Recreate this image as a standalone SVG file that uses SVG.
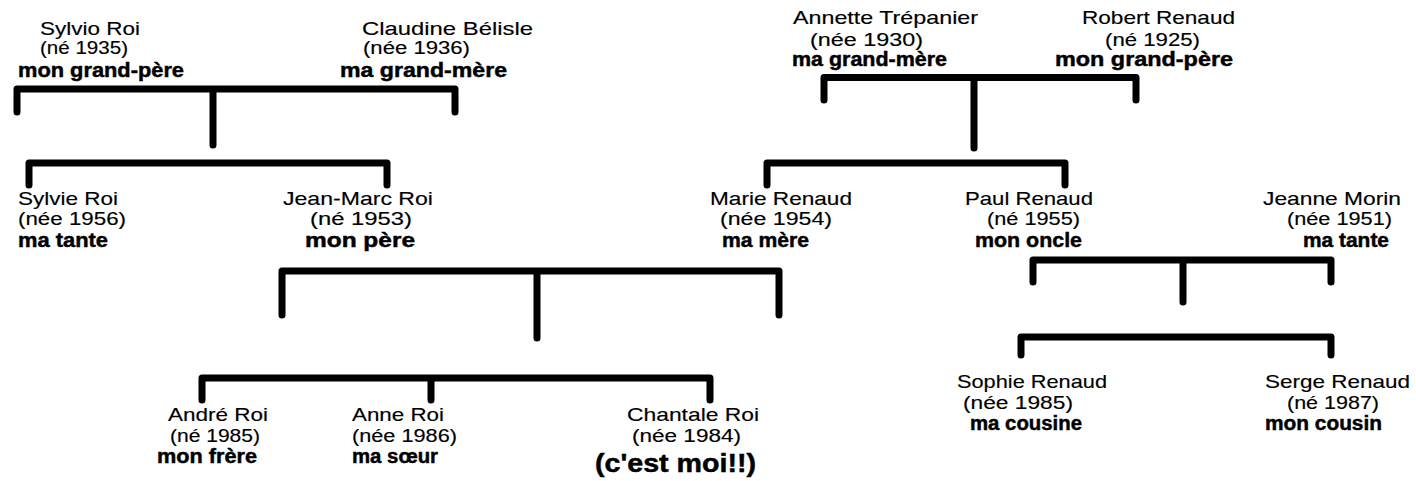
<svg xmlns="http://www.w3.org/2000/svg" width="1416" height="481" viewBox="0 0 1416 481">
<style>
text{font-family:"Liberation Sans",Arial,sans-serif;fill:#000}
.n{font-size:18.5px;stroke:#000;stroke-width:0.15}
.d{font-size:17.5px;stroke:#000;stroke-width:0.15}
.r{font-size:19.5px;font-weight:bold;stroke:#000;stroke-width:0.45}
.big{font-size:26px;font-weight:bold;stroke:#000;stroke-width:0.5}
.c path{fill:none;stroke:#000;stroke-width:7;stroke-linecap:round;stroke-linejoin:round}
</style>
<rect width="1416" height="481" fill="#fff"/>
<g class="c" id="connectors">
<path d="M17 112V89H455V112M213 89V145"/>
<path d="M824 100V77.5H1136V100M974 77.5V148"/>
<path d="M29 185V163H387V185"/>
<path d="M767 185V163H1065V185"/>
<path d="M282 315V271H779V315M537 271V338"/>
<path d="M1033 282V260H1331V282M1183 260V302"/>
<path d="M202 400V378H710V400M431 378V400"/>
<path d="M1021 355V337H1331V355"/>
</g>
<g id="sylvio"><text class="n" x="40" y="35" textLength="100" lengthAdjust="spacingAndGlyphs">Sylvio Roi</text><text class="d" x="40" y="54" textLength="88" lengthAdjust="spacingAndGlyphs">(né 1935)</text><text class="r" x="18" y="77" textLength="166" lengthAdjust="spacingAndGlyphs">mon grand-père</text></g>
<g id="claudine"><text class="n" x="362" y="35" textLength="171" lengthAdjust="spacingAndGlyphs">Claudine Bélisle</text><text class="d" x="363" y="54" textLength="107" lengthAdjust="spacingAndGlyphs">(née 1936)</text><text class="r" x="340" y="77" textLength="167" lengthAdjust="spacingAndGlyphs">ma grand-mère</text></g>
<g id="annette"><text class="n" x="793" y="24" textLength="185" lengthAdjust="spacingAndGlyphs">Annette Trépanier</text><text class="d" x="810" y="46" textLength="113" lengthAdjust="spacingAndGlyphs">(née 1930)</text><text class="r" x="792" y="66" textLength="155" lengthAdjust="spacingAndGlyphs">ma grand-mère</text></g>
<g id="robert"><text class="n" x="1082" y="24" textLength="153" lengthAdjust="spacingAndGlyphs">Robert Renaud</text><text class="d" x="1105" y="46" textLength="95" lengthAdjust="spacingAndGlyphs">(né 1925)</text><text class="r" x="1055" y="66" textLength="178" lengthAdjust="spacingAndGlyphs">mon grand-père</text></g>
<g id="sylvie"><text class="n" x="18" y="205" textLength="100" lengthAdjust="spacingAndGlyphs">Sylvie Roi</text><text class="d" x="18" y="225" textLength="108" lengthAdjust="spacingAndGlyphs">(née 1956)</text><text class="r" x="18" y="247" textLength="90" lengthAdjust="spacingAndGlyphs">ma tante</text></g>
<g id="jeanmarc"><text class="n" x="283" y="205" textLength="150" lengthAdjust="spacingAndGlyphs">Jean-Marc Roi</text><text class="d" x="310" y="225" textLength="102" lengthAdjust="spacingAndGlyphs">(né 1953)</text><text class="r" x="305" y="247" textLength="110" lengthAdjust="spacingAndGlyphs">mon père</text></g>
<g id="marie"><text class="n" x="710" y="205" textLength="142" lengthAdjust="spacingAndGlyphs">Marie Renaud</text><text class="d" x="720" y="225" textLength="112" lengthAdjust="spacingAndGlyphs">(née 1954)</text><text class="r" x="722" y="247" textLength="87" lengthAdjust="spacingAndGlyphs">ma mère</text></g>
<g id="paul"><text class="n" x="965" y="205" textLength="128" lengthAdjust="spacingAndGlyphs">Paul Renaud</text><text class="d" x="987" y="225" textLength="93" lengthAdjust="spacingAndGlyphs">(né 1955)</text><text class="r" x="975" y="247" textLength="107" lengthAdjust="spacingAndGlyphs">mon oncle</text></g>
<g id="jeanne"><text class="n" x="1263" y="205" textLength="138" lengthAdjust="spacingAndGlyphs">Jeanne Morin</text><text class="d" x="1287" y="225" textLength="105" lengthAdjust="spacingAndGlyphs">(née 1951)</text><text class="r" x="1303" y="247" textLength="86" lengthAdjust="spacingAndGlyphs">ma tante</text></g>
<g id="andre"><text class="n" x="168" y="421" textLength="100" lengthAdjust="spacingAndGlyphs">André Roi</text><text class="d" x="170" y="442" textLength="90" lengthAdjust="spacingAndGlyphs">(né 1985)</text><text class="r" x="157" y="463" textLength="100" lengthAdjust="spacingAndGlyphs">mon frère</text></g>
<g id="anne"><text class="n" x="352" y="421" textLength="92" lengthAdjust="spacingAndGlyphs">Anne Roi</text><text class="d" x="352" y="442" textLength="105" lengthAdjust="spacingAndGlyphs">(née 1986)</text><text class="r" x="352" y="463" textLength="86" lengthAdjust="spacingAndGlyphs">ma sœur</text></g>
<g id="chantale"><text class="n" x="627" y="421" textLength="132" lengthAdjust="spacingAndGlyphs">Chantale Roi</text><text class="d" x="632" y="442" textLength="109" lengthAdjust="spacingAndGlyphs">(née 1984)</text><text class="big" x="595" y="472" textLength="161" lengthAdjust="spacingAndGlyphs">(c'est moi!!)</text></g>
<g id="sophie"><text class="n" x="957" y="388" textLength="150" lengthAdjust="spacingAndGlyphs">Sophie Renaud</text><text class="d" x="963" y="409" textLength="110" lengthAdjust="spacingAndGlyphs">(née 1985)</text><text class="r" x="970" y="430" textLength="112" lengthAdjust="spacingAndGlyphs">ma cousine</text></g>
<g id="serge"><text class="n" x="1265" y="388" textLength="145" lengthAdjust="spacingAndGlyphs">Serge Renaud</text><text class="d" x="1287" y="409" textLength="92" lengthAdjust="spacingAndGlyphs">(né 1987)</text><text class="r" x="1265" y="430" textLength="117" lengthAdjust="spacingAndGlyphs">mon cousin</text></g>
</svg>
